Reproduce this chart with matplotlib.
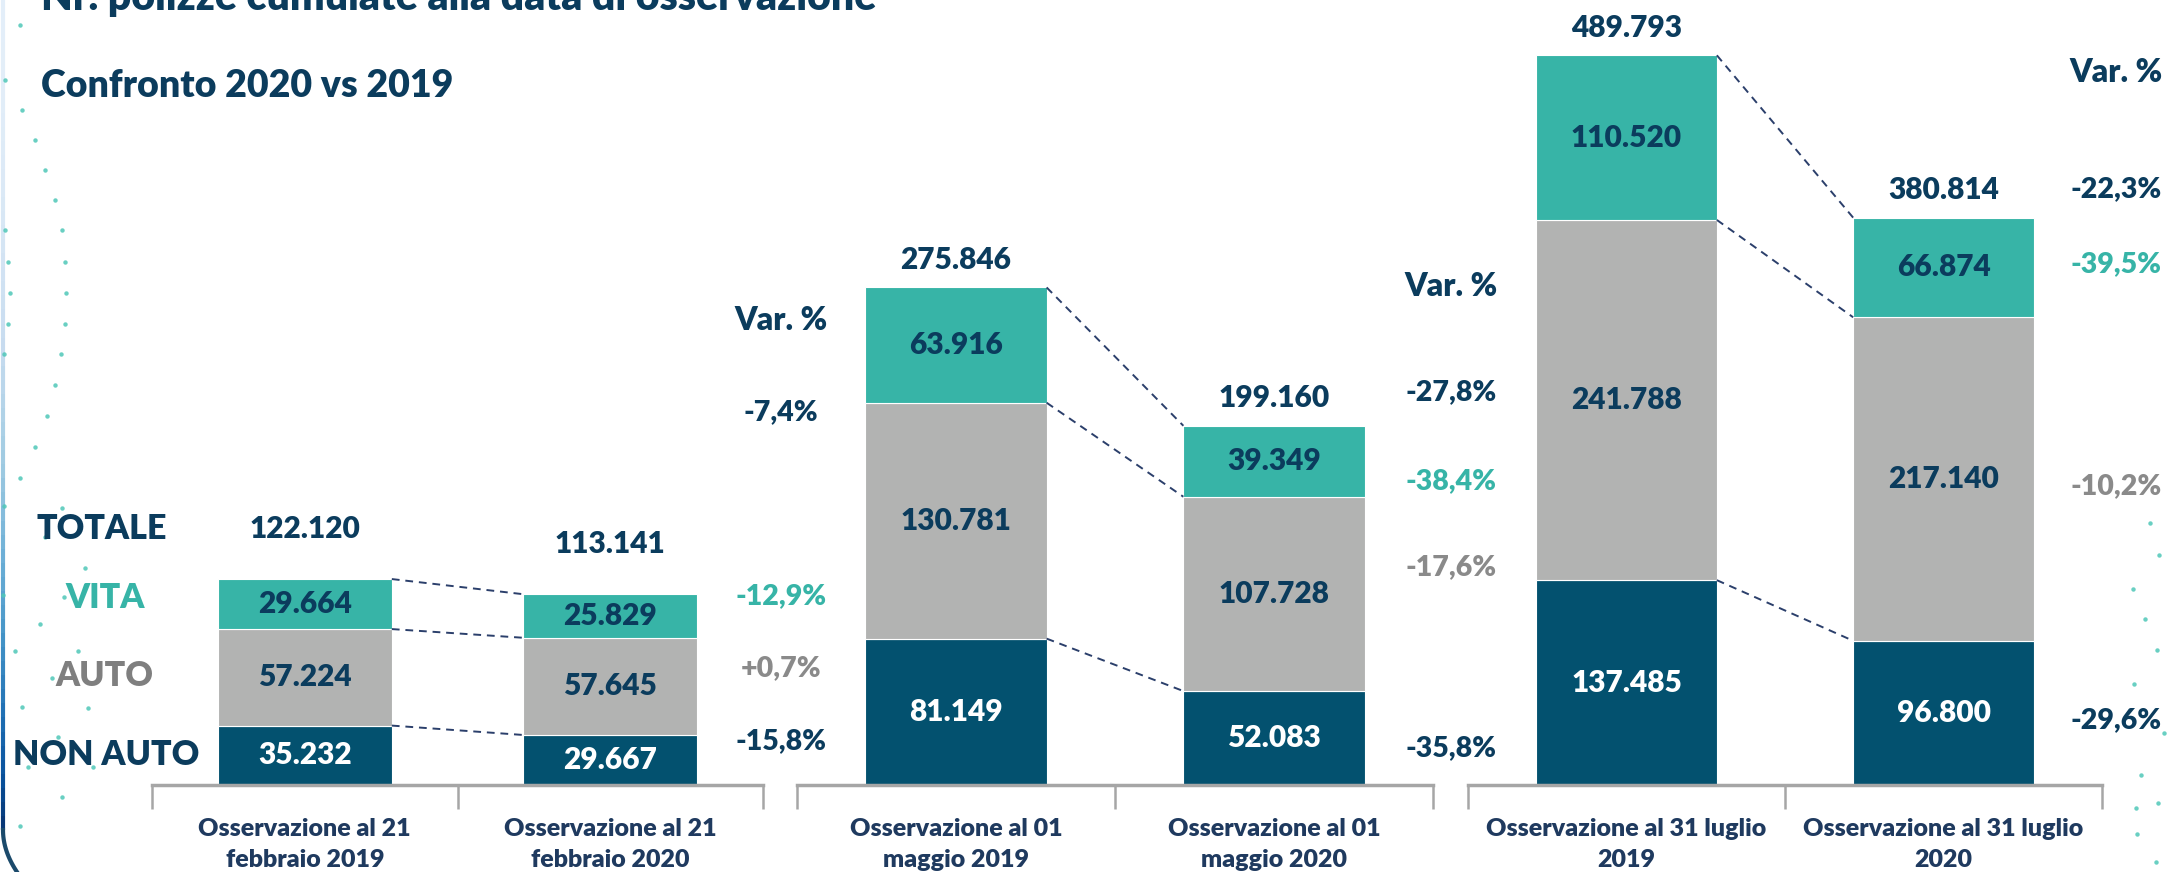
import matplotlib
matplotlib.use("Agg")
import matplotlib.pyplot as plt
from matplotlib.collections import LineCollection
from matplotlib.transforms import blended_transform_factory
import numpy as np

# ---------------- data ----------------
categories = ["Osservazione al 21\nfebbraio 2019", "Osservazione al 21\nfebbraio 2020",
              "Osservazione al 01\nmaggio 2019", "Osservazione al 01\nmaggio 2020",
              "Osservazione al 31 luglio\n2019", "Osservazione al 31 luglio\n2020"]
non_auto = [35232, 29667, 81149, 52083, 137485, 96800]
auto = [57224, 57645, 130781, 107728, 241788, 217140]
vita = [29664, 25829, 63916, 39349, 110520, 66874]
totale = [122120, 113141, 275846, 199160, 489793, 380814]

var_header = "Var. %"
var_totale = ["-7,4%", "-27,8%", "-22,3%"]
var_vita = ["-12,9%", "-38,4%", "-39,5%"]
var_auto = ["+0,7%", "-17,6%", "-10,2%"]
var_non_auto = ["-15,8%", "-35,8%", "-29,6%"]

series_labels = ["TOTALE", "VITA", "AUTO", "NON AUTO"]
title = "Nr. polizze cumulate alla data di osservazione"
subtitle = "Confronto 2020 vs 2019"

# ---------------- style ----------------
NAVY_TXT = "#0B3C5D"
C_VITA = "#37B4A7"
C_AUTO = "#B2B3B2"
C_NON = "#03516F"
GRAY_TXT = "#8A8A8A"
CAT_TXT = "#1F3A5F"
DASH = "#2B3F6B"
AXIS_GRAY = "#A6A6A6"
WT = "heavy"

plt.rcParams['font.family'] = ['Lato', 'DejaVu Sans']
plt.rcParams['font.weight'] = 'bold'

W, H = 2167, 872
fig = plt.figure(figsize=(W / 100, H / 100), dpi=100)
fig.patch.set_facecolor("white")


def fx(px):
    return px / W


def fy(py):
    return 1 - py / H


BASE = 785  # baseline in px from top
group_axes = [(152, 611), (797, 636), (1468, 634)]
group_ymax = [465500, 435200, 526900]
total_offsets = [36, 20, 20]
bar_w = 0.57
VAL_FS = 21.5


def fmt(v):
    return f"{v:,}".replace(",", ".")


for g in range(3):
    left, width = group_axes[g]
    ax = fig.add_axes([fx(left), fy(BASE), width / W, BASE / H])
    ax.set_xlim(-0.5, 1.5)
    ax.set_ylim(0, group_ymax[g])
    ax.patch.set_alpha(0)
    for s in ["top", "right", "left"]:
        ax.spines[s].set_visible(False)
    ax.spines["bottom"].set_color(AXIS_GRAY)
    ax.spines["bottom"].set_linewidth(2.5)
    ax.set_yticks([])
    ax.set_xticks([-0.5, 0.5, 1.5])
    ax.tick_params(axis="x", length=17, width=1.8, color=AXIS_GRAY, labelbottom=False)

    idx = [2 * g, 2 * g + 1]
    xs = np.array([0, 1])
    na = np.array([non_auto[i] for i in idx])
    au = np.array([auto[i] for i in idx])
    vi = np.array([vita[i] for i in idx])
    tot = [totale[i] for i in idx]

    ax.bar(xs, na, width=bar_w, color=C_NON, edgecolor="white", linewidth=0.8)
    ax.bar(xs, au, width=bar_w, bottom=na, color=C_AUTO, edgecolor="white", linewidth=0.8)
    ax.bar(xs, vi, width=bar_w, bottom=na + au, color=C_VITA, edgecolor="white", linewidth=0.8)

    tr = blended_transform_factory(ax.transData, fig.transFigure)
    for k, x in enumerate(xs):
        ax.text(x, na[k] / 2, fmt(na[k]), ha="center", va="center", color="white",
                fontsize=VAL_FS, fontweight=WT)
        ax.text(x, na[k] + au[k] / 2, fmt(au[k]), ha="center", va="center", color=NAVY_TXT,
                fontsize=VAL_FS, fontweight=WT)
        ax.text(x, na[k] + au[k] + vi[k] / 2, fmt(vi[k]), ha="center", va="center",
                color=NAVY_TXT, fontsize=VAL_FS, fontweight=WT)
        ax.annotate(fmt(tot[k]), (x, tot[k]), xytext=(0, total_offsets[g]),
                    textcoords="offset points", ha="center", va="center",
                    color=NAVY_TXT, fontsize=VAL_FS, fontweight=WT)
        lines = categories[idx[k]].split("\n")
        ax.text(x, fy(829), lines[0], transform=tr, ha="center",
                va="center", color=CAT_TXT, fontsize=18, fontweight=WT)
        ax.text(x, fy(860), lines[1], transform=tr, ha="center",
                va="center", color=CAT_TXT, fontsize=18, fontweight=WT)

    # connectors
    x0, x1 = bar_w / 2, 1 - bar_w / 2
    for yv in [na, na + au, na + au + vi]:
        ax.plot([x0, x1], [yv[0], yv[1]], color=DASH, lw=1.4, ls=(0, (4, 3)))

# Var. % columns (layout positions in px)
var_cols = [
    (781, [321, 412, 596, 668, 741]),
    (1451, [286, 392, 481, 567, 748]),
    (2116, [73, 189, 264, 486, 720]),
]
for g, (cx, ys) in enumerate(var_cols):
    items = [(var_header, NAVY_TXT, 23), (var_totale[g], NAVY_TXT, 20.5),
             (var_vita[g], C_VITA, 20.5), (var_auto[g], GRAY_TXT, 20.5),
             (var_non_auto[g], NAVY_TXT, 20.5)]
    for (txt, col, fs), y in zip(items, ys):
        fig.text(fx(cx), fy(y), txt, ha="center", va="center", color=col,
                 fontsize=fs, fontweight=WT)

# legend-like labels on the left
left_lab = [(102, 529, NAVY_TXT), (105, 598, C_VITA), (104, 676, "#7F7F7F"), (106, 755, NAVY_TXT)]
for lab, (x, y, c) in zip(series_labels, left_lab):
    fig.text(fx(x), fy(y), lab, ha="center", va="center", color=c, fontsize=24.5,
             fontweight=WT)

# titles
fig.text(fx(41), fy(10), title, ha="left", va="baseline", color=NAVY_TXT, fontsize=29.5,
         fontweight=WT)
fig.text(fx(41), fy(86), subtitle, ha="left", va="center", color=NAVY_TXT, fontsize=27,
         fontweight=WT)

# decorative frame on the left
ys_line = np.linspace(0, 830, 60)
pts = np.array([[fx(3), fy(v)] for v in ys_line])
segs = np.stack([pts[:-1], pts[1:]], axis=1)
cols = [plt.cm.Blues(0.1 + 0.9 * (i / len(segs)) ** 2) for i in range(len(segs))]
lc = LineCollection(segs, colors=cols, linewidths=3, transform=fig.transFigure)
fig.add_artist(lc)
tcurve = np.linspace(0, 1, 20)
cxs = 3 + 14 * tcurve ** 2
cys = 830 + 42 * tcurve
fig.add_artist(plt.Line2D([fx(v) for v in cxs], [fy(v) for v in cys], color="#1B4A6B",
                          lw=3, transform=fig.transFigure))

# decorative dots
dots_left = [(20, 25), (5, 80), (22, 110), (35, 140), (45, 170), (55, 200), (62, 230),
             (5, 230), (8, 262), (65, 262), (10, 293), (66, 293), (8, 324), (65, 324),
             (4, 354), (61, 354), (55, 385), (47, 416), (35, 447), (20, 478), (4, 506),
             (62, 508), (45, 537), (85, 568), (3, 595), (64, 597), (40, 624), (78, 651),
             (15, 651), (52, 678), (22, 707), (88, 708), (58, 737), (28, 767), (93, 767),
             (62, 797), (20, 826)]
dots_right = [(2150, 523), (2159, 555), (2133, 589), (2145, 619), (2157, 650), (2134, 684),
              (2164, 733), (2141, 775), (2158, 803), (2136, 808), (2137, 834), (2156, 862)]
dx = [fx(p[0]) for p in dots_left + dots_right]
dy = [fy(p[1]) for p in dots_left + dots_right]
fig.add_artist(plt.Line2D(dx, dy, ls="none", marker="o", ms=3.2, mec="none",
                          mfc="#4FC7B8", alpha=0.85, transform=fig.transFigure))

fig.savefig("out.png", dpi=100, facecolor="white")
